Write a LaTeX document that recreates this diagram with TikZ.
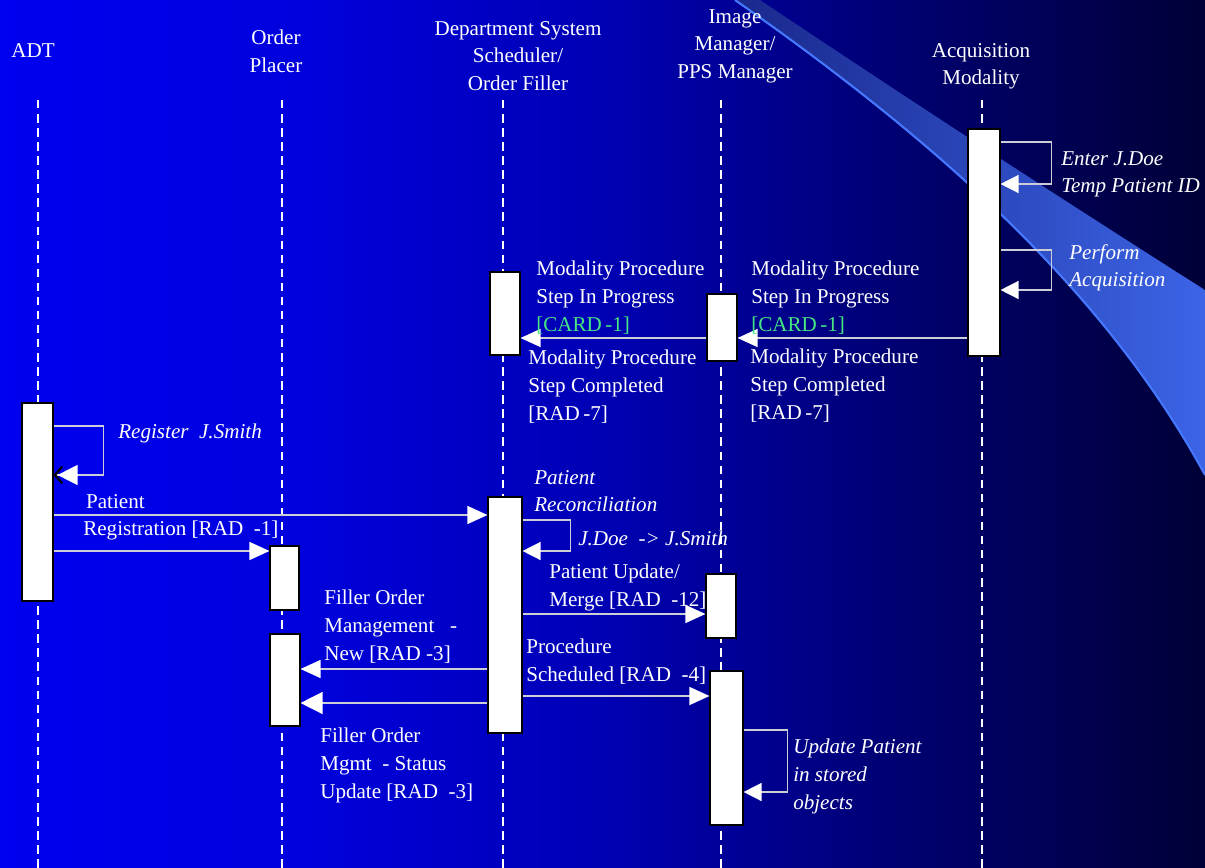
\documentclass[tikz,border=0pt]{standalone}
\usepackage{fontspec}
\setmainfont{Liberation Serif}
\usetikzlibrary{positioning,arrows.meta,fit,calc}

\definecolor{cardgreen}{RGB}{70,230,130}
\definecolor{msgline}{RGB}{205,205,215}
\definecolor{swdark}{RGB}{25,40,140}
\definecolor{swlight}{RGB}{60,100,230}
\definecolor{swedge}{RGB}{70,120,255}
\definecolor{bgA}{RGB}{0,0,240}
\definecolor{bgB}{RGB}{0,0,222}
\definecolor{bgC}{RGB}{0,0,180}
\definecolor{bgD}{RGB}{0,0,115}
\definecolor{bgE}{RGB}{0,0,55}
\pgfdeclarehorizontalshading{slidebg}{100bp}{color(0bp)=(bgA); color(25bp)=(bgA);
  color(37bp)=(bgB); color(50bp)=(bgC); color(62bp)=(bgD); color(75bp)=(bgE); color(100bp)=(bgE)}

\begin{document}
\begin{tikzpicture}[
    x=0.025cm, y=-0.025cm,
    font=\fontsize{15pt}{19.6pt}\selectfont,
    text=white,
    act/.style={draw=black, fill=white, line width=0.8pt, inner sep=0pt},
    life/.style={white, line width=2pt, dash pattern=on 6pt off 4pt},
    msg/.style={msgline, line width=1pt, -{Triangle[length=0.5cm, width=0.45cm, white]}},
    bigmsg/.style={msg, -{Triangle[length=0.55cm, width=0.55cm, white]}},
    loop/.style={msg, -{Triangle[length=0.45cm, width=0.45cm, white]}},
    head/.style={anchor=north, align=center, inner sep=0pt},
    lbl/.style={anchor=north west, align=left, inner sep=0pt},
    note/.style={lbl, font=\fontsize{15pt}{19.6pt}\selectfont\itshape},
  ]
  % background and swoosh
  \shade[shading=slidebg] (0,0) rectangle (1205,868);
  \useasboundingbox (0,0) rectangle (1205,868);
  \begin{scope}
    \clip (0,0) rectangle (1205,868);
    \shade[left color=swdark, right color=swlight]
      (735,0) .. controls (950,150) and (1110,300) .. (1205,475)
      -- (1205,290) .. controls (1000,160) and (850,60) .. (760,0) -- cycle;
    \draw[swedge, line width=1.5pt] (735,0) .. controls (950,150) and (1110,300) .. (1205,475);
  \end{scope}

  % actors
  \node[head] (hadt) at (33,43) {ADT};
  \node[head] (hop) at (276,30) {Order\\Placer};
  \node[head] (hdss) at (518,21) {Department System\\Scheduler/\\Order Filler};
  \node[head] (him) at (735,9) {Image\\Manager/\\PPS Manager};
  \node[head] (hacq) at (981,43) {Acquisition\\Modality};

  % lifelines
  \foreach \n/\x in {adt/38, op/282, dss/503, im/721, acq/982} {
    \coordinate (\n top) at (\x,100);
    \coordinate (\n bot) at (\x,868);
    \draw[life] (\n top) -- (\n bot);
  }

  % activations
  \node[act, fit={(22,403) (53,601)}] (adtbox) {};
  \node[act, fit={(270,546) (299,610)}] (opbox1) {};
  \node[act, fit={(270,634) (300,726)}] (opbox2) {};
  \node[act, fit={(490,272) (520,355)}] (dssbox1) {};
  \node[act, fit={(488,497) (522,733)}] (dssbox2) {};
  \node[act, fit={(707,294) (737,361)}] (imbox1) {};
  \node[act, fit={(706,574) (736,638)}] (imbox2) {};
  \node[act, fit={(710,671) (743,825)}] (imbox3) {};
  \node[act, fit={(968,129) (1000,356)}] (acqbox) {};

  % messages
  \draw[loop] (acqbox.east |- 0,142) -- ++(51,0) |- (acqbox.east |- 0,184);
  \draw[loop] (acqbox.east |- 0,250) -- ++(51,0) |- (acqbox.east |- 0,290);
  \draw[msg] (acqbox.west |- 0,338) -- (imbox1.east |- 0,338);
  \draw[msg] (imbox1.west |- 0,338) -- (dssbox1.east |- 0,338);
  \draw[msg, -{Triangle[length=0.5cm, width=0.5cm, white, sep=-0.14cm] Straight Barb[black, length=0.18cm, width=0.42cm, line width=1.5pt]}]
    (adtbox.east |- 0,426) -- ++(50,0) |- (adtbox.east |- 0,475);
  \draw[msg] (adtbox.east |- 0,515) -- (dssbox2.west |- 0,515);
  \draw[msg] (adtbox.east |- 0,551) -- (opbox1.west |- 0,551);
  \draw[loop] (dssbox2.east |- 0,520) -- ++(48,0) |- (dssbox2.east |- 0,551);
  \draw[msg] (dssbox2.east |- 0,614) -- (imbox2.west |- 0,614);
  \draw[msg] (dssbox2.west |- 0,669) -- (opbox2.east |- 0,669);
  \draw[msg] (dssbox2.east |- 0,696) -- (imbox3.west |- 0,696);
  \draw[bigmsg] (dssbox2.west |- 0,703) -- (opbox2.east |- 0,703);
  \draw[loop] (imbox3.east |- 0,730) -- ++(44,0) |- (imbox3.east |- 0,792);

  % labels
  \node[note] (tenter) at (1061,151) {Enter J.Doe\\Temp Patient ID};
  \node[note] (tperf) at (1069,244) {Perform\\Acquisition};
  \node[lbl] (tprogR) at (751,261) {Modality Procedure\\Step In Progress\\\textcolor{cardgreen}{[CARD\,-1]}};
  \node[lbl] (tdoneR) at (750,349) {Modality Procedure\\Step Completed\\{}[RAD\,-7]};
  \node[lbl] (tprogL) at (536,261) {Modality Procedure\\Step In Progress\\\textcolor{cardgreen}{[CARD\,-1]}};
  \node[lbl] (tdoneL) at (528,350) {Modality Procedure\\Step Completed\\{}[RAD\,-7]};
  \node[note] (treg) at (118,424) {Register\ \ J.Smith};
  \node[lbl] (tpreg) at (83,494) {\hspace{2pt}Patient\\Registration [RAD\ \ -1]};
  \node[note] (trec) at (534,470) {Patient\\Reconciliation};
  \node[note] (tmerge) at (578,531) {J.Doe\ \ -> J.Smith};
  \node[lbl] (tupd) at (549,564) {Patient Update/\\Merge [RAD\ \ -12]};
  \node[lbl] (tnew) at (324,590) {Filler Order\\Management\ \ \ -\\New [RAD -3]};
  \node[lbl] (tsched) at (526,639) {Procedure\\Scheduled [RAD\ \ -4]};
  \node[lbl] (tstat) at (320,728) {Filler Order\\Mgmt\ \ - Status\\Update [RAD\ \ -3]};
  \node[note] (tobj) at (793,739) {Update Patient\\in stored\\objects};
\end{tikzpicture}
\end{document}
